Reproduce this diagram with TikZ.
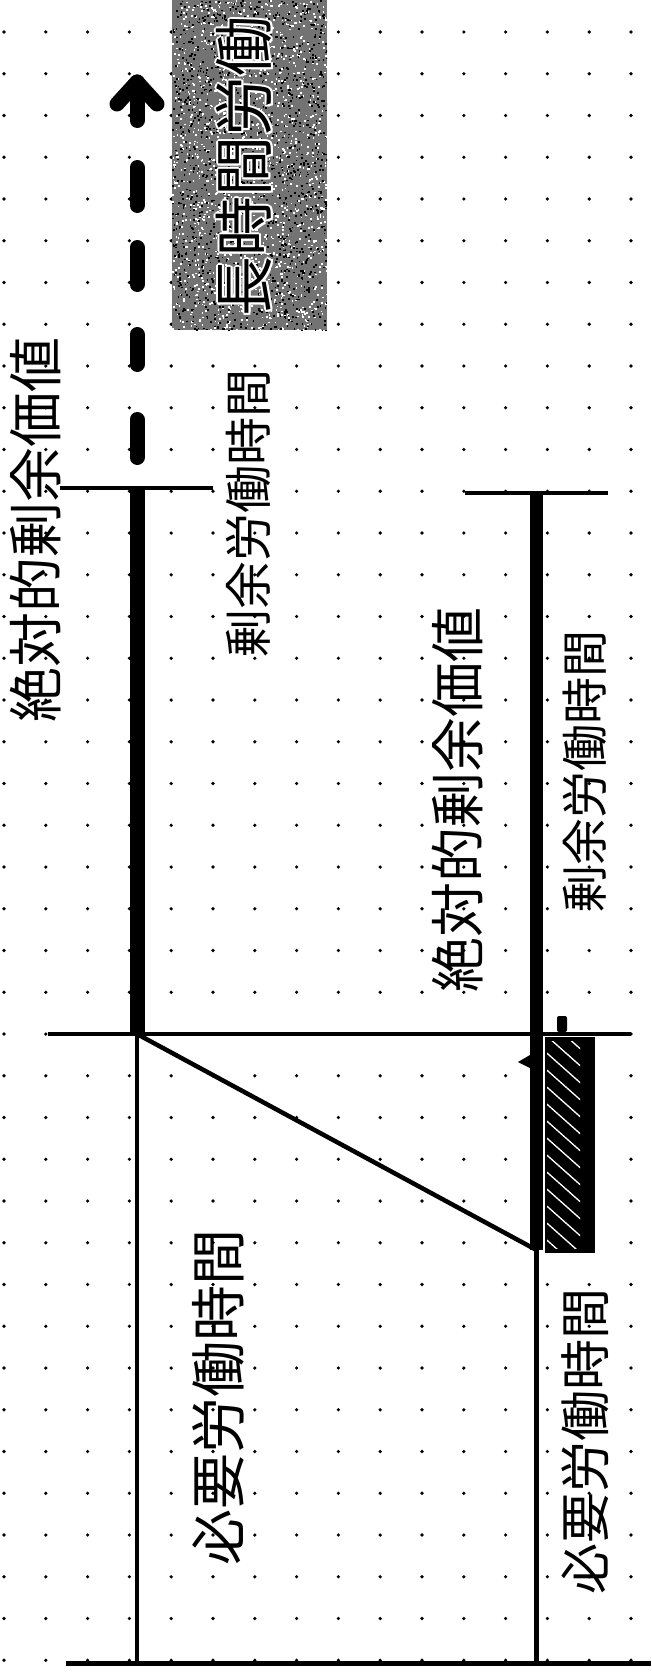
\documentclass[tikz,border=0pt]{standalone}
\usepackage{fontspec}
\newfontfamily\jp{Noto Sans CJK JP}
\usetikzlibrary{calc}
\newcommand\halotext[1]{%
  \makebox[0pt][l]{\color{white}\hspace*{-2pt}#1}%
  \makebox[0pt][l]{\color{white}\hspace*{2pt}#1}%
  \makebox[0pt][l]{\color{white}\raisebox{2pt}{#1}}%
  \makebox[0pt][l]{\color{white}\raisebox{-2pt}{#1}}%
  \makebox[0pt][l]{\color{white}\hspace*{1.5pt}\raisebox{1.5pt}{#1}}%
  \makebox[0pt][l]{\color{white}\hspace*{-1.5pt}\raisebox{-1.5pt}{#1}}%
  \makebox[0pt][l]{\color{white}\hspace*{1.5pt}\raisebox{-1.5pt}{#1}}%
  \makebox[0pt][l]{\color{white}\hspace*{-1.5pt}\raisebox{1.5pt}{#1}}%
  #1}
\tikzset{
  thinline/.style={line width=4.5pt},
  thickbar/.style={line width=15pt},
  lbl/.style={inner sep=0pt, rotate=90, font=\jp\fontsize{#1pt}{#1pt}\selectfont},
  arrowhd/.style={line width=15pt, line cap=round, line join=round},
  dashedbar/.style={line width=15pt, line cap=round,
    dash pattern=on 38pt off 55pt on 30pt off 50pt on 37pt off 42pt on 38pt off 47pt on 60pt off 30.5pt,
    dash phase=397pt},
}
\begin{document}
\begin{tikzpicture}[x=1pt,y=-1pt]
\useasboundingbox (0,0) rectangle (651,1672);
\fill[white] (0,0) rectangle (651,1672);
% dot grid
\foreach \i in {0,...,15}{\foreach \j in {0,...,39}{\fill (4+41.8*\i,32+41.75*\j) circle (1.8pt);}}

% grey box with noise
\node[fill=black!55, minimum width=155pt, minimum height=330pt, inner sep=0pt] (box) at (249.5,165) {};
\begin{scope}
\clip (172,0) rectangle (327,330);
\pgfmathsetseed{7}
\foreach \n in {1,...,1500}{\fill[white] (172+155*rnd,330*rnd) rectangle ++(1.7,1.7);}
\foreach \n in {1,...,1500}{\fill[black] (172+155*rnd,330*rnd) rectangle ++(1.7,1.7);}
\end{scope}
\node[lbl=60] (long) at (244,166.5) {\halotext{長時間労働}};

% coordinates
\coordinate (tipA) at (137,82);
\coordinate (TL) at (137,488);
\coordinate (TLl) at (60,488);
\coordinate (TLr) at (213,488);
\coordinate (ML) at (137,1034);
\coordinate (MLl) at (48,1034);
\coordinate (MLr) at (631,1034);
\coordinate (TR) at (536.5,493);
\coordinate (TRl) at (465,493);
\coordinate (TRr) at (608,493);
\coordinate (MR) at (536.5,1250);
\coordinate (BL) at (137,1663);
\coordinate (BR) at (536.5,1663);
\coordinate (Bl) at (66,1663);
\coordinate (Br) at (651,1663);

% dashed arrow
\draw[dashedbar] (TL) -- (tipA);
\draw[arrowhd] ($(tipA)+(-20,22)$) -- (tipA) -- ($(tipA)+(20,22)$);

% left T
\draw[thinline] (TLl) -- (TLr);
\draw[thickbar] (TL) -- (ML);
% right T
\draw[thinline] (TRl) -- (TRr);
\draw[line width=13.5pt] (TR) -- (MR);

% hatched block
\node[fill=black, minimum width=50pt, minimum height=216pt, inner sep=0pt] (hatch) at (570,1145) {};
\begin{scope}
\clip (547,1041) rectangle (580,1248);
\foreach \k in {-3,...,14}{\draw[white, line width=1.3pt] (540,1030+17*\k) -- ++(45,40);}
\end{scope}

% middle line, diagonal, verticals, bottom
\draw[thinline] (MLl) -- (MLr);
\draw[thinline] (ML) -- (MR);
\draw[thinline] (ML) -- (BL);
\draw[thinline] (MR) -- (BR);
\draw[line width=5pt] (Bl) -- (Br);

% small marks
\fill (518,1062) -- (530,1055) -- (530,1068) -- cycle;
\fill[rounded corners=2pt] (557,1016) rectangle (567,1032);

% labels
\node[lbl=55] (absL) at (36,530) {絶対的剰余価値};
\node[lbl=48] (surL) at (248.5,513.5) {剰余労働時間};
\node[lbl=55] (absR) at (458,800) {絶対的剰余価値};
\node[lbl=47] (surR) at (585,771) {剰余労働時間};
\node[lbl=56] (necL) at (218,1397) {必要労働時間};
\node[lbl=51] (necR) at (585,1441) {必要労働時間};
\end{tikzpicture}
\end{document}
